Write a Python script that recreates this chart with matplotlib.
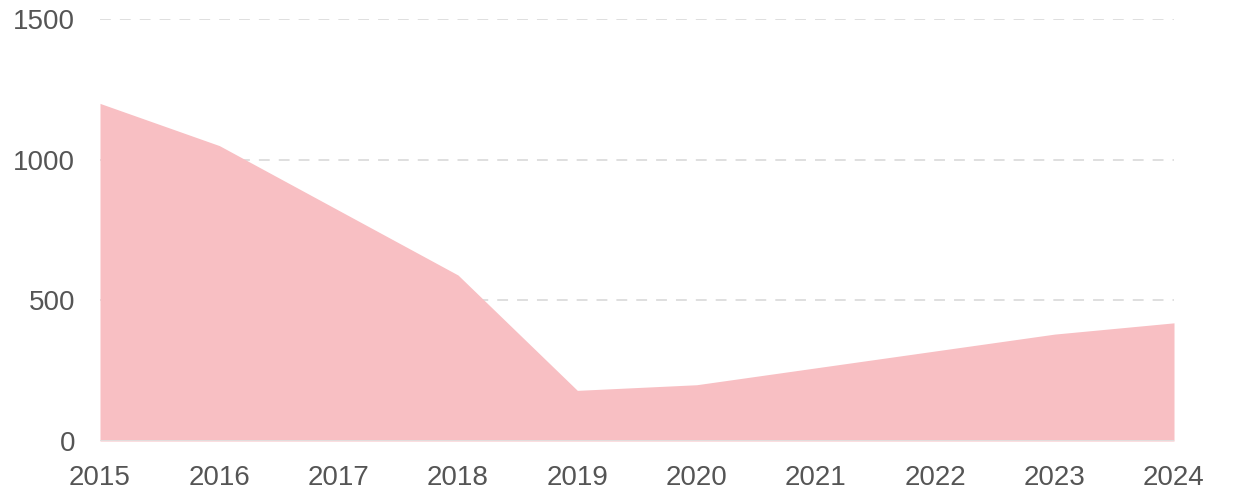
import matplotlib.pyplot as plt
import numpy as np

years = [2015, 2016, 2017, 2018, 2019, 2020, 2021, 2022, 2023, 2024]
values = [1200, 1050, 820, 590, 180, 200, 260, 320, 380, 420]
y_ticks = [0, 500, 1000, 1500]

plt.rcParams['font.family'] = ['Liberation Sans', 'DejaVu Sans']

fig = plt.figure(figsize=(12.4, 4.93), dpi=100)
ax = fig.add_axes([100 / 1240, 52 / 493, 1074 / 1240, 422 / 493])

ax.fill_between(years, values, 0, color="#f8bfc3", linewidth=0, zorder=2)

ax.set_xlim(years[0], years[-1])
ax.set_ylim(0, 1500)
ax.set_xticks(years)
ax.set_yticks(y_ticks)

for y in y_ticks[1:]:
    ax.axhline(y, color="#dcdcdc", linewidth=1.3, linestyle=(0, (6, 5)), zorder=1)
ax.axhline(0, color="#e0e0e0", linewidth=2, zorder=3)

for side in ["top", "right", "left", "bottom"]:
    ax.spines[side].set_visible(False)

ax.tick_params(axis="both", length=0, labelsize=20, colors="#555555")
ax.tick_params(axis="x", pad=17)
ax.tick_params(axis="y", pad=18)

fig.savefig("out.png", dpi=100)
